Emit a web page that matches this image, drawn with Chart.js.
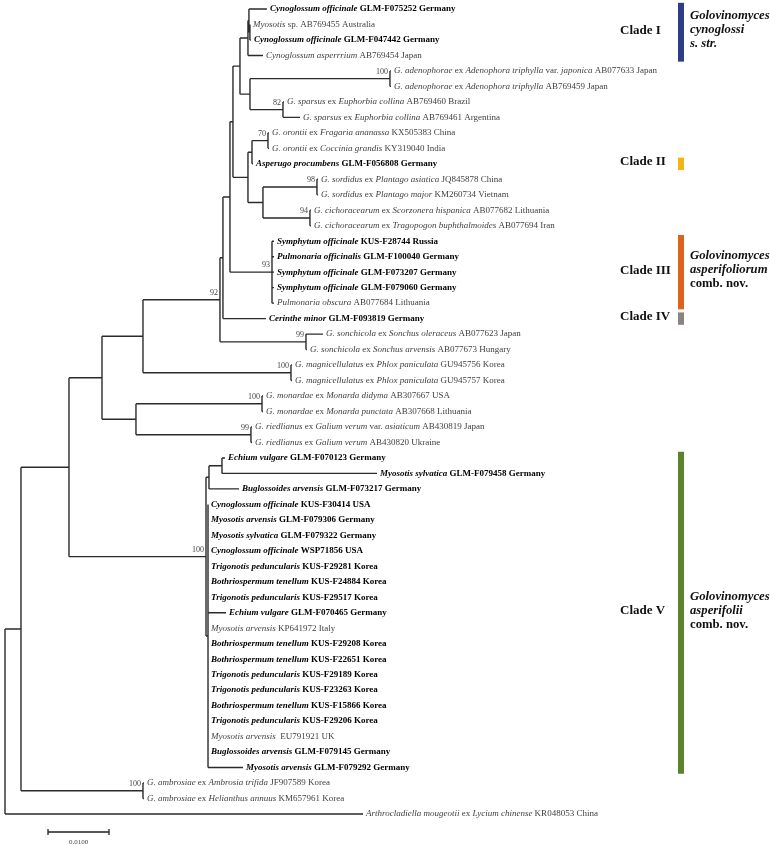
<!DOCTYPE html>
<html>
<head>
<meta charset="utf-8">
<script src="https://cdn.jsdelivr.net/npm/chart.js@4.4.0/dist/chart.umd.min.js"></script>
<style>
  html, body { margin: 0; padding: 0; background: #fff; }
  #wrap { width: 770px; height: 846px; position: relative; }
</style>
</head>
<body>
<div id="wrap"><canvas id="tree"></canvas></div>
<script>
// Tip labels, top to bottom. Text between * is italic.
const tipLabels = [
  '*Cynoglossum officinale* GLM-F075252 Germany',
  '*Myosotis* sp. AB769455 Australia',
  '*Cynoglossum officinale* GLM-F047442 Germany',
  '*Cynoglossum asperrrium* AB769454 Japan',
  '*G. adenophorae* ex *Adenophora triphylla* var. *japonica* AB077633 Japan',
  '*G. adenophorae* ex *Adenophora triphylla* AB769459 Japan',
  '*G. sparsus* ex *Euphorbia collina* AB769460 Brazil',
  '*G. sparsus* ex *Euphorbia collina* AB769461 Argentina',
  '*G. orontii* ex *Fragaria ananassa* KX505383 China',
  '*G. orontii* ex *Coccinia grandis* KY319040 India',
  '*Asperugo procumbens* GLM-F056808 Germany',
  '*G. sordidus* ex *Plantago asiatica* JQ845878 China',
  '*G. sordidus* ex *Plantago major* KM260734 Vietnam',
  '*G. cichoracearum* ex *Scorzonera hispanica* AB077682 Lithuania',
  '*G. cichoracearum* ex *Tragopogon buphthalmoides* AB077694 Iran',
  '*Symphytum officinale* KUS-F28744 Russia',
  '*Pulmonaria officinalis* GLM-F100040 Germany',
  '*Symphytum officinale* GLM-F073207 Germany',
  '*Symphytum officinale* GLM-F079060 Germany',
  '*Pulmonaria obscura* AB077684 Lithuania',
  '*Cerinthe minor* GLM-F093819 Germany',
  '*G. sonchicola* ex *Sonchus oleraceus* AB077623 Japan',
  '*G. sonchicola* ex *Sonchus arvensis* AB077673 Hungary',
  '*G. magnicellulatus* ex *Phlox paniculata* GU945756 Korea',
  '*G. magnicellulatus* ex *Phlox paniculata* GU945757 Korea',
  '*G. monardae* ex *Monarda didyma* AB307667 USA',
  '*G. monardae* ex *Monarda punctata* AB307668 Lithuania',
  '*G. riedlianus* ex *Galium verum* var. *asiaticum* AB430819 Japan',
  '*G. riedlianus* ex *Galium verum* AB430820 Ukraine',
  '*Echium vulgare* GLM-F070123 Germany',
  '*Myosotis sylvatica* GLM-F079458 Germany',
  '*Buglossoides arvensis* GLM-F073217 Germany',
  '*Cynoglossum officinale* KUS-F30414 USA',
  '*Myosotis arvensis* GLM-F079306 Germany',
  '*Myosotis sylvatica* GLM-F079322 Germany',
  '*Cynoglossum officinale* WSP71856 USA',
  '*Trigonotis peduncularis* KUS-F29281 Korea',
  '*Bothriospermum tenellum* KUS-F24884 Korea',
  '*Trigonotis peduncularis* KUS-F29517 Korea',
  '*Echium vulgare* GLM-F070465 Germany',
  '*Myosotis arvensis* KP641972 Italy',
  '*Bothriospermum tenellum* KUS-F29208 Korea',
  '*Bothriospermum tenellum* KUS-F22651 Korea',
  '*Trigonotis peduncularis* KUS-F29189 Korea',
  '*Trigonotis peduncularis* KUS-F23263 Korea',
  '*Bothriospermum tenellum* KUS-F15866 Korea',
  '*Trigonotis peduncularis* KUS-F29206 Korea',
  '*Myosotis arvensis*  EU791921 UK',
  '*Buglossoides arvensis* GLM-F079145 Germany',
  '*Myosotis arvensis* GLM-F079292 Germany',
  '*G. ambrosiae* ex *Ambrosia trifida* JF907589 Korea',
  '*G. ambrosiae* ex *Helianthus annuus* KM657961 Korea',
  '*Arthrocladiella mougeotii* ex *Lycium chinense* KR048053 China'
];
// 1 = sequence from this study (bold)
const tipBold = [1,0,1,0, 0,0,0,0, 0,0,1,0,0,0,0, 1,1,1,1,0,1, 0,0,0,0,0,0,0,0,
  1,1,1,1,1,1,1,1,1,1,1,0,1,1,1,1,1,1,0,1,1, 0,0,0];
const tipParent = ['c1a','c1b','c1b','c1', 'aden','aden','spars','spars',
  'oront','oront','T','sord','sord','cich','cich',
  'symph','symph','symph','symph','symph','G','sonch','sonch',
  'magn','magn','mon','mon','ried','ried',
  'W','W','X','V3','V3','V3','V3','V3','V3','V3','V3','V3','V3','V3','V3','V3','V3','V3','V3','V3','V3',
  'ambr','ambr','root'];
const tipLength = [0.00295,0,0.00016,0.00246, 0.00016,0.00016,0.00016,0.00279,
  0.00016,0.00016,0.00016,0.00016,0.00016,0.00016,0.00016,
  0.00033,0.00033,0.00033,0.00033,0.00033,0.00705,0.00279,0.00016,
  0.00016,0.00016,0.00016,0.00016,0.00016,0.00016,
  0.00049,0.02541,0.00492,0,0,0,0,0,0,0,0.00295,0,0,0,0,0,0,0,0,0,0.00574,
  0.00016,0.00016,0.05869];

// Internal nodes (parents listed before children)
const nodeNames  = ['root','A','B','C','D','F','G','H','I','P','c1','c1a','c1b','Q','aden','spars',
  'S','T','oront','U','sord','cich','symph','sonch','magn','E','mon','ried','V','X','W','V3','ambr'];
const nodeParent = [null,'root','A','B','C','D','F','G','H','I','P','c1','c1a','P','Q','Q',
  'I','S','T','S','U','U','H','F','D','C','E','E','B','V','X','V','A'];
const nodeLength = [0,0.00262,0.00787,0.00541,0.00672,0.01262,0.00049,0.00115,0.00049,0.00115,0.00131,0.00016,0.00016,0.00164,0.02295,0.00541,
  0.00246,0.00066,0.00262,0.00246,0.00885,0.00770,0.00689,0.01410,0.02426,0.00557,0.02066,0.01885,0.02246,0.00049,0.00213,0.00033,0.02000];

// Bootstrap support values
const supportNodes  = ['aden','spars','oront','sord','cich','symph','F','sonch','magn','mon','ried','V','ambr'];
const supportValues = [100, 82, 70, 98, 94, 93, 92, 99, 100, 100, 99, 100, 100];

// Clade annotations (tip rows are 1-based)
const cladeNames = ['Clade I', 'Clade II', 'Clade III', 'Clade IV', 'Clade V'];
const cladeFirstTip = [1, 11, 16, 21, 30];
const cladeLastTip  = [4, 11, 20, 21, 50];
const cladeColors = ['#2f3c88', '#f6b414', '#df621c', '#8a8381', '#5c822e'];
const cladeTaxon = [
  ['*Golovinomyces*', '*cynoglossi*', '*s. str.*'],
  [],
  ['*Golovinomyces*', '*asperifoliorum*', 'comb. nov.'],
  [],
  ['*Golovinomyces*', '*asperifolii*', 'comb. nov.']
];

const scaleBarLength = 0.01;
const scaleBarLabel = '0.0100';

// ---- tree layout (x = distance from root, y = row) ----
const posX = {}, posY = {};
nodeNames.forEach((n, i) => {
  posX[n] = nodeParent[i] ? posX[nodeParent[i]] + nodeLength[i] : 0;
});
const tipX = tipLabels.map((t, i) => posX[tipParent[i]] + tipLength[i]);
const tipY = tipLabels.map((t, i) => i + 1);
const span = {};
for (let i = nodeNames.length - 1; i >= 0; i--) {
  const n = nodeNames[i];
  const ys = [];
  nodeNames.forEach((m, j) => { if (nodeParent[j] === n) ys.push(posY[m]); });
  tipParent.forEach((p, j) => { if (p === n) ys.push(tipY[j]); });
  const lo = Math.min(...ys), hi = Math.max(...ys);
  span[n] = [lo, hi];
  posY[n] = (lo + hi) / 2;
}

// line segments, separated by gaps
const branchPts = [];
const gap = { x: null, y: null };
nodeNames.forEach((n, i) => {
  branchPts.push({ x: posX[n], y: span[n][0] }, { x: posX[n], y: span[n][1] }, gap);
  if (nodeParent[i]) {
    branchPts.push({ x: posX[nodeParent[i]], y: posY[n] }, { x: posX[n], y: posY[n] }, gap);
  }
});
tipLabels.forEach((t, i) => {
  branchPts.push({ x: posX[tipParent[i]], y: tipY[i] }, { x: tipX[i], y: tipY[i] }, gap);
});

const SERIF = '"Liberation Serif", "Times New Roman", serif';

function drawRich(ctx, text, x, y, bold, size) {
  const parts = text.split('*');
  let cx = x;
  parts.forEach((p, k) => {
    if (!p) return;
    ctx.font = (k % 2 ? 'italic ' : '') + (bold ? 'bold ' : '') + size + 'px ' + SERIF;
    ctx.fillText(p, cx, y);
    cx += ctx.measureText(p).width;
  });
}

const treeLabels = {
  id: 'treeLabels',
  afterDatasetsDraw(chart) {
    const { ctx, scales: { x, y } } = chart;
    ctx.save();
    ctx.textBaseline = 'middle';
    ctx.textAlign = 'left';

    // tip names
    tipLabels.forEach((t, i) => {
      ctx.fillStyle = tipBold[i] ? '#000' : '#3f3f3f';
      drawRich(ctx, t, x.getPixelForValue(tipX[i]) + 3, y.getPixelForValue(tipY[i]), tipBold[i], 9);
    });

    // support values
    ctx.textAlign = 'right';
    ctx.fillStyle = '#444';
    ctx.font = '8px ' + SERIF;
    supportNodes.forEach((n, i) => {
      ctx.fillText(String(supportValues[i]), x.getPixelForValue(posX[n]) - 2, y.getPixelForValue(posY[n]) - 7);
    });

    // clade bars and names
    const barX = 678;
    cladeNames.forEach((c, i) => {
      const top = y.getPixelForValue(cladeFirstTip[i] - 0.4);
      const bot = y.getPixelForValue(cladeLastTip[i] + 0.4);
      const mid = (top + bot) / 2 - 2;
      ctx.fillStyle = cladeColors[i];
      ctx.fillRect(barX, top, 6, bot - top);
      ctx.fillStyle = '#111';
      ctx.textAlign = 'left';
      ctx.font = 'bold 13px ' + SERIF;
      ctx.fillText(c, 620, mid);
      const lines = cladeTaxon[i];
      lines.forEach((l, k) => {
        drawRich(ctx, l, 690, mid + (k - (lines.length - 1) / 2) * 14, true, 12.7);
      });
    });

    // scale bar
    const x0 = 48;
    const len = x.getPixelForValue(scaleBarLength) - x.getPixelForValue(0);
    const yb = 832;
    ctx.strokeStyle = '#222';
    ctx.lineWidth = 1.3;
    ctx.beginPath();
    ctx.moveTo(x0, yb); ctx.lineTo(x0 + len, yb);
    ctx.moveTo(x0, yb - 3); ctx.lineTo(x0, yb + 3);
    ctx.moveTo(x0 + len, yb - 3); ctx.lineTo(x0 + len, yb + 3);
    ctx.stroke();
    ctx.fillStyle = '#444';
    ctx.textAlign = 'center';
    ctx.font = '7px ' + SERIF;
    ctx.fillText(scaleBarLabel, x0 + len / 2, yb + 10);
    ctx.restore();
  }
};

new Chart(document.getElementById('tree'), {
  type: 'scatter',
  data: {
    datasets: [{
      label: 'branches',
      data: branchPts,
      showLine: true,
      spanGaps: false,
      borderColor: '#2b2b2b',
      borderWidth: 1.4,
      pointRadius: 0,
      clip: false
    }]
  },
  options: {
    responsive: true,
    maintainAspectRatio: false,
    animation: false,
    layout: { padding: { left: 5, right: 2.5, top: 9, bottom: 32 } },
    scales: {
      x: { type: 'linear', min: 0, max: 0.125, display: false },
      y: { type: 'linear', min: 1, max: 53, reverse: true, display: false }
    },
    plugins: { legend: { display: false }, tooltip: { enabled: false } }
  },
  plugins: [treeLabels]
});
</script>
</body>
</html>
